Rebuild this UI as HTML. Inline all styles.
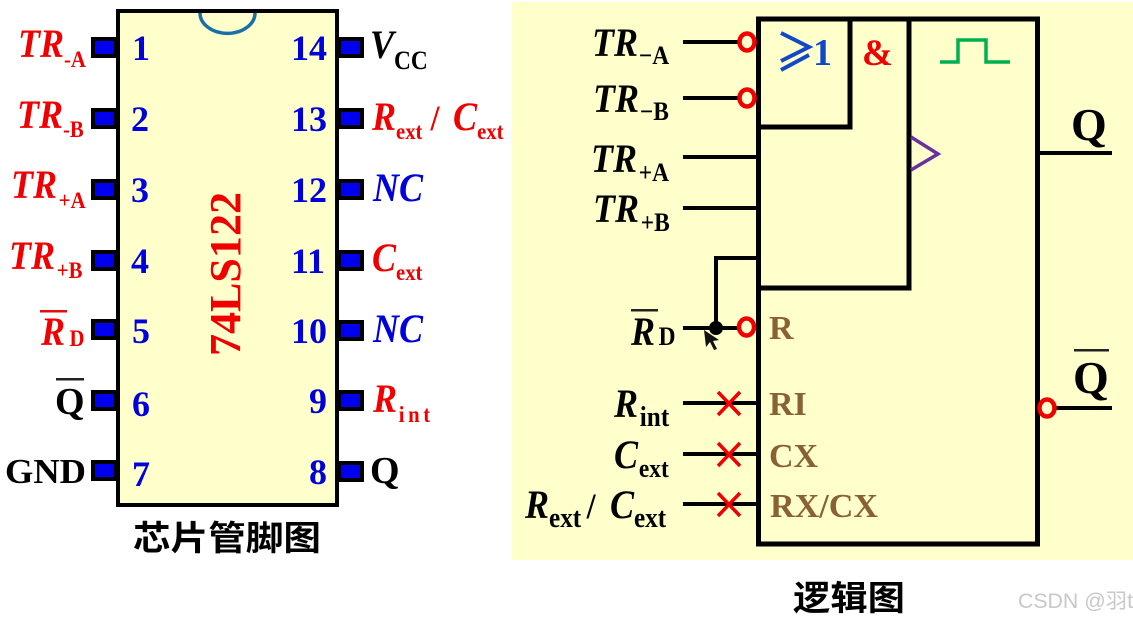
<!DOCTYPE html>
<html><head><meta charset="utf-8"><style>
html,body{margin:0;padding:0;background:#fff}
svg{display:block}
text{font-family:"Liberation Serif","Noto Serif CJK SC",serif;font-weight:bold}
.t{font-size:40px;font-style:italic}
.s{font-size:23px;font-style:normal}
.l{font-size:26px;font-style:normal}
.x{font-size:28px;font-style:normal}
.n{font-size:36px;fill:#0000dd}
.r{fill:#f00000}.b{fill:#0000dd}.k{fill:#000}.br{fill:#8a6035;font-size:34px}
.cn{font-family:"Noto Sans CJK SC","Liberation Sans",sans-serif;font-weight:700;font-size:34px;fill:#000}
</style></head><body>
<svg width="1133" height="621" viewBox="0 0 1133 621" xmlns="http://www.w3.org/2000/svg">
<rect width="1133" height="621" fill="#fff"/>
<!-- chip -->
<rect x="118" y="11" width="219" height="494" fill="#ffffcc" stroke="#000" stroke-width="4"/>
<path d="M200 13 A27 20 0 0 0 255 13" fill="none" stroke="#1a6fa8" stroke-width="3.5"/>
<g fill="#0000ee" stroke="#000" stroke-width="4">
<rect x="93" y="39" width="23" height="17"/><rect x="93" y="110" width="23" height="17"/><rect x="93" y="181" width="23" height="17"/><rect x="93" y="252" width="23" height="17"/><rect x="93" y="321" width="23" height="17"/><rect x="93" y="392" width="23" height="17"/><rect x="93" y="462" width="23" height="17"/>
<rect x="339" y="39" width="23" height="17"/><rect x="339" y="110" width="23" height="17"/><rect x="339" y="181" width="23" height="17"/><rect x="339" y="252" width="23" height="17"/><rect x="339" y="322" width="23" height="17"/><rect x="339" y="392" width="23" height="17"/><rect x="339" y="463" width="23" height="17"/>
</g>
<text class="n" x="132" y="60">1</text><text class="n" x="131" y="131">2</text><text class="n" x="131" y="202">3</text><text class="n" x="131" y="273">4</text><text class="n" x="132" y="343">5</text><text class="n" x="132" y="416">6</text><text class="n" x="132" y="486">7</text>
<g text-anchor="end">
<text class="n" x="327" y="60">14</text><text class="n" x="327" y="131">13</text><text class="n" x="327" y="202">12</text><text class="n" x="325" y="273">11</text><text class="n" x="327" y="343">10</text><text class="n" x="327" y="413">9</text><text class="n" x="327" y="484">8</text>
</g>
<text transform="translate(240 356) rotate(-90)" font-size="44" class="r" textLength="164" lengthAdjust="spacingAndGlyphs">74LS122</text>
<!-- left labels -->
<text class="t r" transform="translate(18 57) scale(.9 1)">TR<tspan class="s" dy="10">-A</tspan></text>
<text class="t r" transform="translate(17 128) scale(.9 1)">TR<tspan class="s" dy="9">-B</tspan></text>
<text class="t r" transform="translate(11 198) scale(.9 1)">TR<tspan class="s" dx="2" dy="10">+A</tspan></text>
<text class="t r" transform="translate(9 269) scale(.9 1)">TR<tspan class="s" dx="2" dy="9">+B</tspan></text>
<text class="t r" transform="translate(41 345) scale(.9 1)">R<tspan class="s" dy="1" dx="5">D</tspan></text>
<rect x="40" y="310" width="27" height="2.5" fill="#e01010"/>
<text x="55" y="414" font-size="38" class="k">Q</text>
<rect x="56" y="378" width="28" height="2.5" fill="#222"/>
<text x="5" y="483" font-size="35" class="k" textLength="81" lengthAdjust="spacingAndGlyphs">GND</text>
<!-- right labels -->
<text class="t k" transform="translate(370 58) scale(.9 1)">V<tspan class="l" dx="0" dy="11">CC</tspan></text>
<text class="t r" transform="translate(372 130) scale(.9 1)">R<tspan class="s" dy="9">ext</tspan><tspan dy="-9" font-style="normal" dx="9" font-size="36">/</tspan><tspan dx="15">C</tspan><tspan class="s" dy="9">ext</tspan></text>
<text class="t b" transform="translate(373 201) scale(.9 1)">NC</text>
<text class="t r" transform="translate(372 271) scale(.9 1)">C<tspan class="s" dy="9">ext</tspan></text>
<text class="t b" transform="translate(373 342) scale(.9 1)">NC</text>
<text class="t r" transform="translate(373 412) scale(.9 1)">R<tspan class="s" dx="2" dy="10" letter-spacing="4">int</tspan></text>
<text x="370" y="483" font-size="38" class="k">Q</text>
<text class="cn" x="133" y="550" textLength="188" lengthAdjust="spacingAndGlyphs">芯片管脚图</text>
<!-- panel -->
<rect x="512" y="2" width="621" height="558" fill="#ffffcc"/>
<g fill="none" stroke="#000">
<rect x="758.5" y="19" width="279" height="525" stroke-width="5"/>
<path d="M758 127H850V19M758 288H909V19" stroke-width="5"/>
<path d="M683 42H740M683 98H740M683 157H757M683 208H757M683 328H740M683 403H757M683 454H757M683 504H757M1040 153H1112M1056 408H1112" stroke-width="4"/>
<path d="M757 258H716V328" stroke-width="4"/>
</g>
<circle cx="716" cy="328" r="7" fill="#000"/>
<g fill="#ffffcc" stroke="#f00000" stroke-width="4.5">
<ellipse cx="747" cy="42" rx="7.500" ry="8.500"/><ellipse cx="747" cy="98" rx="7.500" ry="8.500"/><ellipse cx="746.500" cy="327" rx="7.500" ry="8.500"/><ellipse cx="1047" cy="408" rx="7.500" ry="8.500"/>
</g>
<path d="M718 392L740 415M740 392L718 415M718 443L740 466M740 443L718 466M718 493L740 516M740 493L718 516" stroke="#f00000" stroke-width="3.500" fill="none"/>
<path d="M911 137L938 154L911 170" fill="none" stroke="#6a30a0" stroke-width="3.500"/>
<path d="M940 62H958V40H986V62H1010" fill="none" stroke="#00b050" stroke-width="3.500"/>
<path d="M781 33L809 47L781 61M781 70L809 55" fill="none" stroke="#1048c8" stroke-width="4"/>
<text x="813" y="65" font-size="38" fill="#1048c8">1</text>
<text x="862" y="65" font-size="37" class="r">&amp;</text>
<path d="M704 330L706 347L710 342L714 350L717 349L713 341L719 340Z" fill="#111"/>
<!-- logic labels -->
<text class="t k" transform="translate(592 56) scale(.9 1)">TR<tspan class="l" dx="1" dy="8">−A</tspan></text>
<text class="t k" transform="translate(593 112) scale(.9 1)">TR<tspan class="l" dx="1" dy="8">−B</tspan></text>
<text class="t k" transform="translate(591 172) scale(.9 1)">TR<tspan class="l" dx="2" dy="9">+A</tspan></text>
<text class="t k" transform="translate(593 222) scale(.9 1)">TR<tspan class="l" dx="2" dy="9">+B</tspan></text>
<text class="t k" transform="translate(631 345) scale(.9 1)">R<tspan class="l" dx="4">D</tspan></text>
<rect x="631" y="309" width="27" height="2.5" fill="#222"/>
<text class="t k" transform="translate(614 417) scale(.9 1)">R<tspan class="x" dx="2" dy="9">int</tspan></text>
<text class="t k" transform="translate(614 468) scale(.9 1)">C<tspan class="l" dx="1" dy="9">ext</tspan></text>
<text class="t k" transform="translate(525 518) scale(.9 1)">R<tspan class="x" dy="9">ext</tspan><tspan dy="-9" dx="6" font-style="normal" font-size="36">/</tspan><tspan dx="16">C</tspan><tspan class="x" dy="9">ext</tspan></text>
<text class="br" x="769" y="339">R</text>
<text class="br" x="769" y="415">RI</text>
<text class="br" x="769" y="467">CX</text>
<text class="br" x="770" y="517" textLength="108" lengthAdjust="spacingAndGlyphs">RX/CX</text>
<text x="1071" y="140" font-size="46" class="k">Q</text>
<text x="1073" y="393" font-size="46" class="k">Q</text>
<rect x="1074" y="349" width="35" height="2.500" fill="#222"/>
<text class="cn" x="793" y="610" textLength="112" lengthAdjust="spacingAndGlyphs">逻辑图</text>
<text x="1018" y="608" style="font-family:'Liberation Sans','Noto Sans CJK SC',sans-serif;font-weight:normal;font-size:21px" fill="#c8c8c8" textLength="115" lengthAdjust="spacingAndGlyphs">CSDN @羽t</text>
</svg>
</body></html>
